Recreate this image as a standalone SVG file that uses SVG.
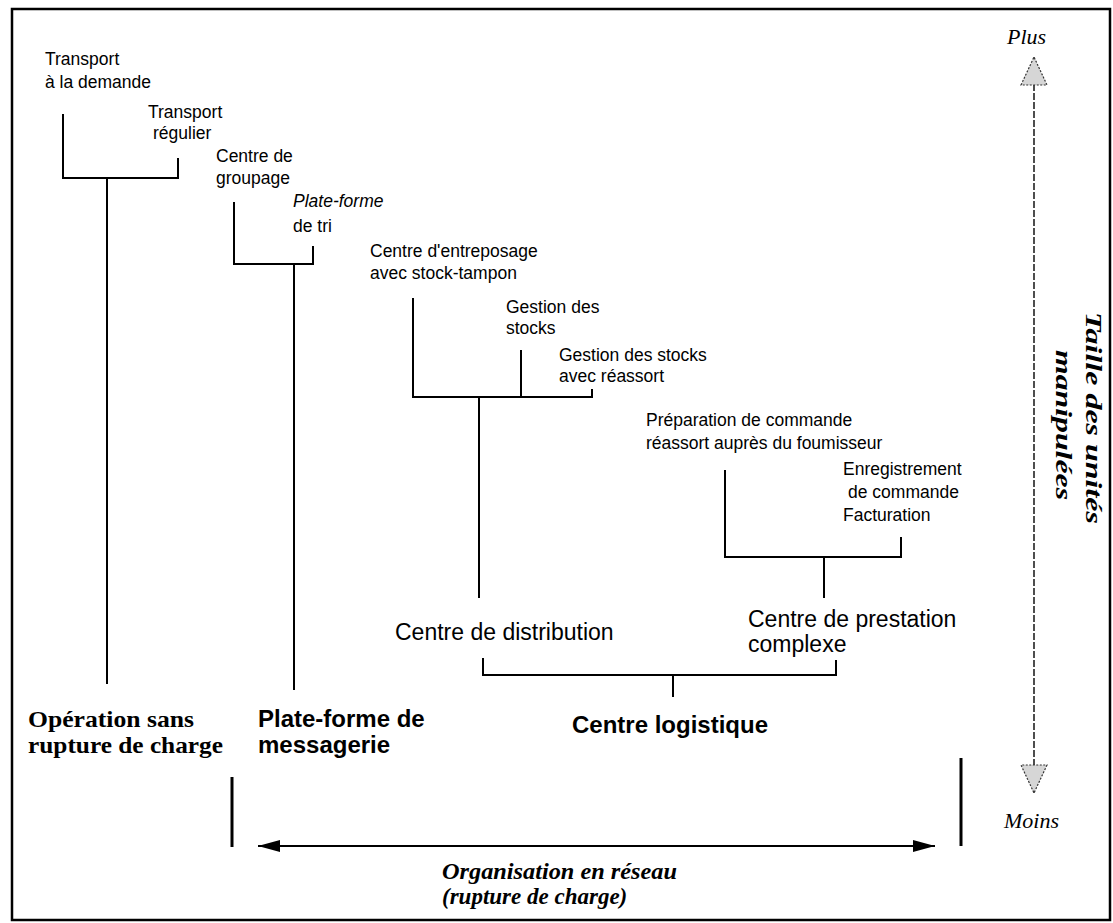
<svg xmlns="http://www.w3.org/2000/svg" width="1113" height="923" viewBox="0 0 1113 923">
<defs>
<style>
.t{font-family:"Liberation Sans",Arial,sans-serif;font-size:17.5px;fill:#000}
.m{font-family:"Liberation Sans",Arial,sans-serif;font-size:23px;fill:#000}
.b{font-family:"Liberation Sans",Arial,sans-serif;font-size:24px;font-weight:bold;fill:#000}
.sb{font-family:"Liberation Serif","Times New Roman",serif;font-size:24px;font-weight:bold;fill:#000}
.si{font-family:"Liberation Serif","Times New Roman",serif;font-size:22px;font-style:italic;fill:#000}
.sbi{font-family:"Liberation Serif","Times New Roman",serif;font-size:23px;font-style:italic;font-weight:bold;fill:#000}
.ln{stroke:#000;stroke-width:2;fill:none}
.bar{stroke:#000;stroke-width:3;fill:none}
</style>
<marker id="ah" viewBox="0 0 22 12" refX="22" refY="6" markerWidth="22" markerHeight="12" markerUnits="userSpaceOnUse" orient="auto-start-reverse">
<path d="M0,0 L22,6 L0,12 z" fill="#000"/>
</marker>
<marker id="vh" viewBox="-1 -1 30 28" refX="28" refY="13" markerWidth="30" markerHeight="28" markerUnits="userSpaceOnUse" orient="auto-start-reverse">
<path d="M0,0 L28,13 L0,26 z" fill="#d6d6d6" stroke="#333" stroke-width="1.2" stroke-dasharray="2 1.5"/>
</marker>
</defs>
<rect x="0" y="0" width="1113" height="923" fill="#fff"/>
<rect x="12" y="9" width="1098" height="911" fill="none" stroke="#000" stroke-width="2.5"/>

<g id="connectors">
<path class="ln" d="M63,114 V178 H178 V158"/>
<path class="ln" d="M107,178 V684"/>
<path class="ln" d="M234,202 V264 H313 V246"/>
<path class="ln" d="M294,264 V690"/>
<path class="ln" d="M413,298 V397 H592 V389"/>
<path class="ln" d="M521,350 V397"/>
<path class="ln" d="M479,397 V598"/>
<path class="ln" d="M725,470 V557 H901 V537"/>
<path class="ln" d="M824,557 V598"/>
<path class="ln" d="M483,658 V675 H836 V660"/>
<path class="ln" d="M673,675 V697"/>
<path class="bar" d="M232,777 V847"/>
<path class="bar" d="M961,758 V846"/>
<line x1="258" y1="846" x2="935" y2="846" stroke="#000" stroke-width="2" marker-start="url(#ah)" marker-end="url(#ah)"/>
<line x1="1034" y1="57" x2="1034" y2="793" stroke="#222" stroke-width="1.6" stroke-dasharray="7 2" marker-start="url(#vh)" marker-end="url(#vh)"/>
</g>

<g id="n-transport-demande"><text class="t" x="45" y="65">Transport</text><text class="t" x="45" y="88">à la demande</text></g>
<g id="n-transport-regulier"><text class="t" x="148" y="118">Transport</text><text class="t" x="153" y="139">régulier</text></g>
<g id="n-centre-groupage"><text class="t" x="216" y="162">Centre de</text><text class="t" x="216" y="184">groupage</text></g>
<g id="n-plateforme-tri"><text class="t" x="293" y="207" font-style="italic">Plate-forme</text><text class="t" x="293" y="232">de tri</text></g>
<g id="n-centre-entreposage"><text class="t" x="370" y="257">Centre d'entreposage</text><text class="t" x="370" y="279">avec stock-tampon</text></g>
<g id="n-gestion-stocks"><text class="t" x="506" y="313">Gestion des</text><text class="t" x="506" y="334">stocks</text></g>
<g id="n-gestion-reassort"><text class="t" x="559" y="361">Gestion des stocks</text><text class="t" x="559" y="382">avec réassort</text></g>
<g id="n-preparation"><text class="t" x="646" y="426">Préparation de commande</text><text class="t" x="646" y="449">réassort auprès du foumisseur</text></g>
<g id="n-enregistrement"><text class="t" x="843" y="475">Enregistrement</text><text class="t" x="848" y="498">de commande</text><text class="t" x="843" y="521">Facturation</text></g>
<g id="n-centre-distribution"><text class="m" x="395" y="640">Centre de distribution</text></g>
<g id="n-centre-prestation"><text class="m" x="748" y="627">Centre de prestation</text><text class="m" x="748" y="652">complexe</text></g>
<g id="n-operation"><text class="sb" x="28" y="727" textLength="166" lengthAdjust="spacingAndGlyphs">Opération sans</text><text class="sb" x="28" y="753" textLength="195" lengthAdjust="spacingAndGlyphs">rupture de charge</text></g>
<g id="n-messagerie"><text class="b" x="258" y="727">Plate-forme de</text><text class="b" x="258" y="753">messagerie</text></g>
<g id="n-centre-logistique"><text class="b" x="572" y="733">Centre logistique</text></g>
<g id="n-organisation"><text class="sbi" x="442" y="879" textLength="235" lengthAdjust="spacingAndGlyphs">Organisation en réseau</text><text class="sbi" x="442" y="904">(rupture de charge)</text></g>
<g id="n-plus"><text class="si" x="1007" y="44">Plus</text></g>
<g id="n-moins"><text class="si" x="1004" y="828">Moins</text></g>
<g id="n-taille">
<text class="sbi" transform="translate(1086,312) rotate(90)" x="0" y="0" textLength="212" lengthAdjust="spacingAndGlyphs">Taille des unités</text>
<text class="sbi" transform="translate(1056,350) rotate(90)" x="0" y="0" textLength="150" lengthAdjust="spacingAndGlyphs">manipulées</text>
</g>
</svg>
